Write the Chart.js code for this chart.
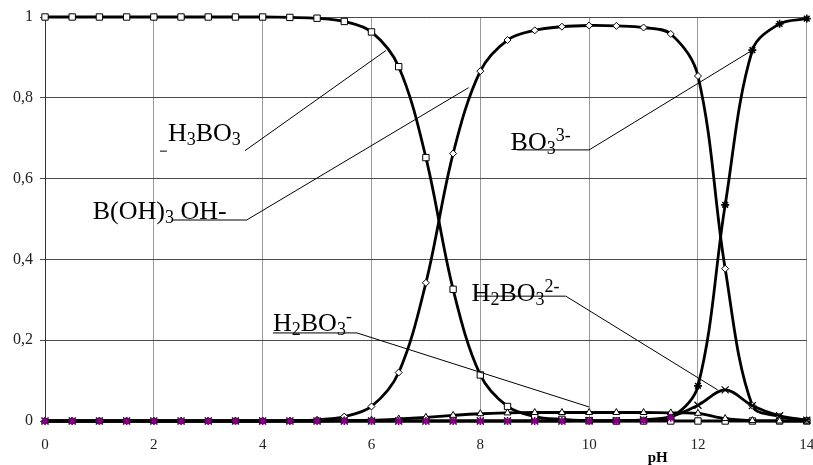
<!DOCTYPE html>
<html>
<head>
<meta charset="utf-8">
<script src="https://cdn.jsdelivr.net/npm/chart.js@4.4.1/dist/chart.umd.min.js"></script>
<style>
  html, body { margin: 0; padding: 0; background: #fff; }
  #wrap { width: 813px; height: 465px; }
</style>
</head>
<body>
<div id="wrap"><canvas id="chart" width="813" height="465"></canvas></div>
<script>
// pH values 0 .. 14 in steps of 0.5
const phValues = [0, 0.5, 1, 1.5, 2, 2.5, 3, 3.5, 4, 4.5, 5, 5.5, 6, 6.5, 7, 7.5,
    8, 8.5, 9, 9.5, 10, 10.5, 11, 11.5, 12, 12.5, 13, 13.5, 14];

// fractions
const h3bo3 = [1, 1, 1, 1, 1, 1, 1, 1, 1, 0.999, 0.997, 0.989, 0.963, 0.877, 0.652, 0.326,
    0.114, 0.036, 0.011, 0.004, 0.001, 0, 0, 0, 0, 0, 0, 0, 0];
const bOH4 = [0, 0, 0, 0, 0, 0, 0, 0, 0, 0.001, 0.003, 0.011, 0.036, 0.12, 0.342, 0.662,
    0.866, 0.943, 0.967, 0.976, 0.979, 0.978, 0.974, 0.958, 0.854, 0.377, 0.038, 0.011, 0.002];
const h2bo3 = [0, 0, 0, 0, 0, 0, 0, 0, 0, 0, 0, 0.001, 0.002, 0.005, 0.009, 0.014,
    0.018, 0.02, 0.021, 0.021, 0.021, 0.021, 0.021, 0.02, 0.019, 0.006, 0.001, 0, 0];
const hbo3 = [0, 0, 0, 0, 0, 0, 0, 0, 0, 0, 0, 0, 0, 0, 0, 0,
    0, 0, 0, 0, 0.0005, 0.001, 0.003, 0.011, 0.039, 0.077, 0.038, 0.013, 0.002];
const bo3 = [0, 0, 0, 0, 0, 0, 0, 0, 0, 0, 0, 0, 0, 0, 0, 0,
    0, 0, 0, 0, 0, 0, 0.001, 0.008, 0.087, 0.535, 0.918, 0.983, 0.996];

const xTicks = [0, 2, 4, 6, 8, 10, 12, 14];
const yTicks = [0, 0.2, 0.4, 0.6, 0.8, 1];

// text labels with leader lines, in data units
const labels = [
    { x: 2.26, y: 0.692, parts: [['H'], ['3', 'sub'], ['BO'], ['3', 'sub']] },
    { x: 0.876, y: 0.5, parts: [['B(OH)'], ['3', 'sub'], [' OH-']] },
    { x: 8.556, y: 0.671, parts: [['BO'], ['3', 'sub'], ['3-', 'sup']] },
    { x: 7.84, y: 0.297, parts: [['H'], ['2', 'sub'], ['BO'], ['3', 'sub'], ['2-', 'sup']] },
    { x: 4.19, y: 0.223, parts: [['H'], ['2', 'sub'], ['BO'], ['3', 'sub'], ['-', 'sup']] }
];
const leaders = [
    [[2.113, 0.668], [2.241, 0.668]],
    [[3.674, 0.669], [6.265, 0.917]],
    [[2.328, 0.4975], [3.638, 0.4975], [3.706, 0.4975], [7.784, 0.825]],
    [[8.672, 0.671], [10.0, 0.671], [13.0, 0.918]],
    [[7.9, 0.309], [9.572, 0.309], [12.364, 0.0767]],
    [[4.19, 0.218], [5.732, 0.218], [10.0, 0.0347]]
];

const SERIF = '"Liberation Serif", "Times New Roman", serif';

function drawRich(ctx, x, y, parts) {
    let cx = x;
    parts.forEach(([t, kind]) => {
        let dy = 0;
        if (kind === 'sub') { ctx.font = '18px ' + SERIF; dy = 4; }
        else if (kind === 'sup') { ctx.font = '18px ' + SERIF; dy = -9; }
        else ctx.font = '26px ' + SERIF;
        ctx.fillText(t, cx, y + dy);
        cx += ctx.measureText(t).width;
    });
}

const labelPlugin = {
    id: 'speciesLabels',
    afterDatasetsDraw(chart) {
        const { ctx, chartArea, scales: { x, y } } = chart;
        ctx.save();
        ctx.strokeStyle = '#000';
        ctx.lineWidth = 1;
        leaders.forEach(pts => {
            ctx.beginPath();
            pts.forEach((p, i) => {
                const px = x.getPixelForValue(p[0]), py = y.getPixelForValue(p[1]);
                if (i === 0) ctx.moveTo(px, py); else ctx.lineTo(px, py);
            });
            ctx.stroke();
        });
        ctx.fillStyle = '#000';
        ctx.textBaseline = 'alphabetic';
        ctx.textAlign = 'left';
        labels.forEach(l => drawRich(ctx, x.getPixelForValue(l.x), y.getPixelForValue(l.y), l.parts));

        ctx.font = 'bold 15px ' + SERIF;
        ctx.textAlign = 'center';
        ctx.textBaseline = 'middle';
        ctx.fillText('pH', x.getPixelForValue(11.26), chartArea.bottom + 37);
        ctx.restore();
    }
};

const pts = (vals) => vals.map((v, i) => ({ x: phValues[i], y: v }));
const starColors = phValues.map(p => p <= 11.5 ? '#800080' : '#000');

function series(data, style, radius, extra) {
    return Object.assign({
        data: pts(data),
        borderColor: '#000',
        borderWidth: 2.8,
        tension: 0.35,
        pointStyle: style,
        pointRadius: radius,
        pointBackgroundColor: '#fff',
        pointBorderColor: '#000',
        pointBorderWidth: 1,
        clip: 12
    }, extra || {});
}

new Chart(document.getElementById('chart'), {
    type: 'line',
    data: {
        datasets: [
            series(bo3, 'star', 4, { label: 'BO3 3-', pointBorderColor: starColors, pointBorderWidth: 1.6 }),
            series(hbo3, 'crossRot', 5, { label: 'HBO3 2-', pointBorderWidth: 1.2 }),
            series(h2bo3, 'triangle', 4, { label: 'H2BO3-' }),
            series(bOH4, 'rectRot', 3.5, { label: 'B(OH)3 OH-' }),
            series(h3bo3, 'rect', 4.5, { label: 'H3BO3' })
        ]
    },
    options: {
        responsive: false,
        animation: false,
        layout: { padding: { left: 0, top: 17, right: 6, bottom: 0 } },
        plugins: { legend: { display: false }, tooltip: { enabled: false } },
        scales: {
            x: {
                type: 'linear',
                min: 0,
                max: 14,
                afterBuildTicks: s => { s.ticks = xTicks.map(v => ({ value: v })); },
                afterFit: s => { s.height = 44; s.paddingLeft = 0; s.paddingRight = 0; },
                grid: { color: '#9a9a9a', lineWidth: 1, drawTicks: false },
                border: { color: '#444', width: 1 },
                ticks: {
                    padding: 15,
                    color: '#222',
                    font: { family: SERIF, size: 15 },
                    maxRotation: 0
                }
            },
            y: {
                min: 0,
                max: 1,
                afterBuildTicks: s => { s.ticks = yTicks.map(v => ({ value: v })); },
                afterFit: s => { s.width = 45; },
                grid: { color: '#4a4a4a', lineWidth: 1, tickLength: 5, tickColor: '#4a4a4a' },
                border: { color: '#333', width: 1 },
                ticks: {
                    padding: 7,
                    color: '#222',
                    font: { family: SERIF, size: 16 },
                    callback: v => String(Math.round(v * 10) / 10).replace('.', ',')
                }
            }
        }
    },
    plugins: [labelPlugin]
});
</script>
</body>
</html>
